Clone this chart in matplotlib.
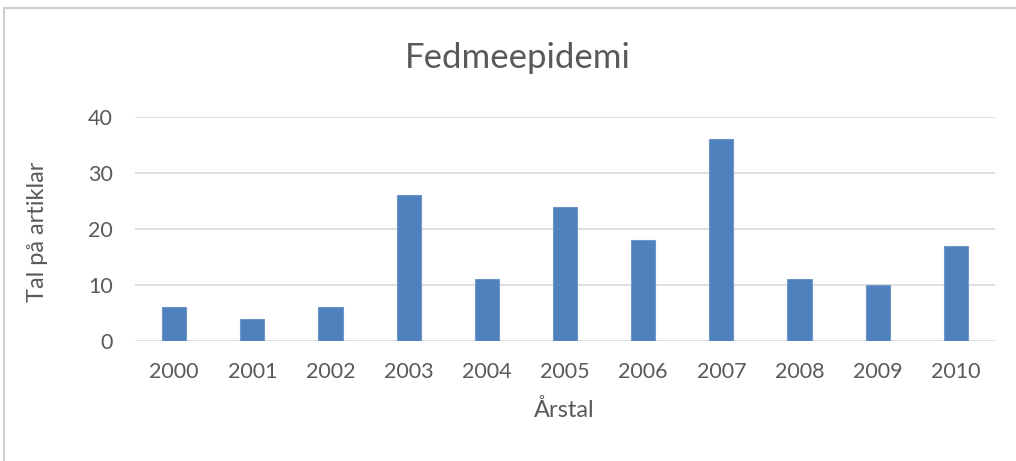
import numpy as np
import matplotlib.pyplot as plt
from matplotlib.patches import Rectangle

years = ['2000', '2001', '2002', '2003', '2004', '2005', '2006', '2007', '2008', '2009', '2010']
articles = [6, 4, 6, 26, 11, 24, 18, 36, 11, 10, 17]

plt.rcParams['font.family'] = ['Lato', 'DejaVu Sans']
txt = '#595959'

W, H = 1016, 461
fig = plt.figure(figsize=(W / 100, H / 100), dpi=100)
# plot area in pixels: left 135, right 995, top(y=40) 117, bottom(y=0) 341
ax = fig.add_axes([135 / W, 1 - 341 / H, (995 - 135) / W, (341 - 117) / H])

x = np.arange(len(years))
ax.bar(x, articles, width=0.31, color='#4F81BD', edgecolor='#6f97c9', linewidth=0.8, zorder=3)
ax.set_xlim(-0.5, len(years) - 0.5)
ax.set_ylim(0, 40)
ax.set_yticks([0, 10, 20, 30, 40])
ax.set_xticks(x)
ax.set_xticklabels(years)
ax.grid(axis='y', color='#d9d9d9', linewidth=1.2, zorder=0)
for s in ax.spines.values():
    s.set_visible(False)
ax.tick_params(length=0, labelsize=15.5, colors=txt)
ax.tick_params(axis='x', pad=15)
ax.tick_params(axis='y', pad=16)

# axis titles placed by pixel position
ax.set_xlabel('Årstal', fontsize=17, color=txt)
ax.set_ylabel('Tal på artiklar', fontsize=17, color=txt)
ax.xaxis.set_label_coords(564 / W, 1 - 410 / H, transform=fig.transFigure)
ax.xaxis.label.set_va('center')
ax.yaxis.set_label_coords(38 / W, 1 - 232 / H, transform=fig.transFigure)
ax.yaxis.label.set_va('center')
fig.text(518 / W, 1 - 58 / H, 'Fedmeepidemi', fontsize=25, color=txt, ha='center', va='center')

# outer chart frame (cut off at right and bottom)
fig.patches.append(Rectangle((3.5 / W, -0.1), 1.2, 1 - 7.5 / H + 0.1, transform=fig.transFigure,
                             fill=False, edgecolor='#d0d0d0', linewidth=1.5))

fig.savefig('out.png', dpi=100, facecolor='white')
